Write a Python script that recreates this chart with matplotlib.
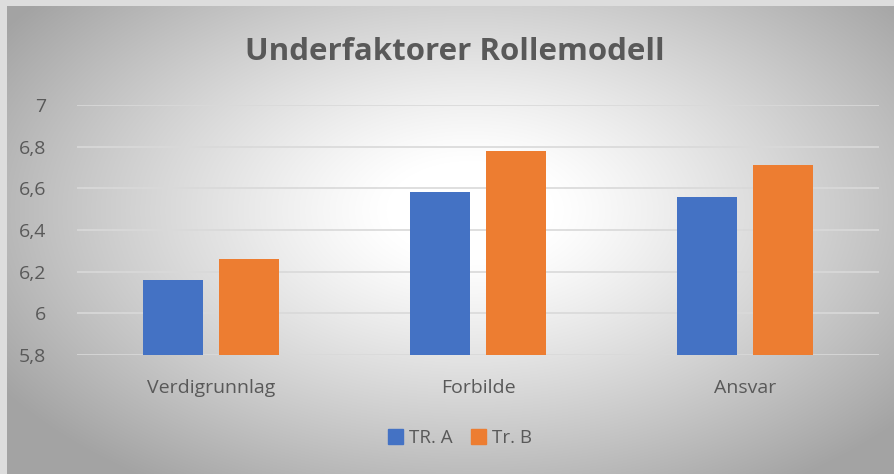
import numpy as np
import matplotlib.pyplot as plt
from matplotlib.patches import Patch

categories = ['Verdigrunnlag', 'Forbilde', 'Ansvar']
tr_a = [6.16, 6.58, 6.56]
tr_b = [6.26, 6.78, 6.71]
yticks = [5.8, 6.0, 6.2, 6.4, 6.6, 6.8, 7.0]
ytick_labels = ['5,8', '6', '6,2', '6,4', '6,6', '6,8', '7']

W, H = 895, 474
fig = plt.figure(figsize=(W / 100, H / 100), dpi=100)
plt.rcParams['font.family'] = ['Open Sans', 'DejaVu Sans']

# radial gradient background (white centre, grey edges)
bg = fig.add_axes([0, 0, 1, 1], zorder=0)
yy, xx = np.mgrid[0:H, 0:W]
r = np.sqrt(((xx - 470) / 560.0) ** 2 + ((yy - 210) / 330.0) ** 2)
r = np.clip(r, 0, 1)
grey = 1.0 - 0.36 * np.clip((r - 0.15) / 0.85, 0, 1) ** 1.15
img = np.dstack([grey, grey, grey])
img[:6, :, :] = 0.87
img[:, :7, :] = 0.87
bg.imshow(img, aspect='auto', interpolation='bilinear')
bg.axis('off')

ax = fig.add_axes([77 / W, 1 - 355 / H, (879 - 77) / W, (355 - 105) / H], zorder=1)
ax.patch.set_alpha(0)

x = np.arange(len(categories))
w = 0.224
off = 0.142
ax.bar(x - off, np.array(tr_a) - 5.8, w, bottom=5.8, color='#4472C4', label='TR. A', zorder=3)
ax.bar(x + off, np.array(tr_b) - 5.8, w, bottom=5.8, color='#ED7D31', label='Tr. B', zorder=3)

ax.set_xlim(-0.5, 2.5)
ax.set_ylim(5.8, 7.0)
ax.set_yticks(yticks)
ax.set_yticklabels(ytick_labels)
ax.set_xticks(x)
ax.set_xticklabels(categories)
ax.tick_params(length=0, colors='#595959', labelsize=14)
ax.tick_params(axis='y', pad=22)
ax.tick_params(axis='x', pad=17)
ax.grid(axis='y', color='#D9D9D9', linewidth=1.2, zorder=0)
for s in ax.spines.values():
    s.set_visible(False)

fig.text(455 / W, 1 - 52 / H, 'Underfaktorer Rollemodell', ha='center', va='center',
         fontsize=22.5, fontweight='bold', color='#595959')

handles = [Patch(color='#4472C4'), Patch(color='#ED7D31')]
fig.legend(handles, ['TR. A', 'Tr. B'], loc='center', bbox_to_anchor=(460 / W, 1 - 438 / H),
           ncol=2, frameon=False, fontsize=13.5, handlelength=0.8, handleheight=0.8,
           handletextpad=0.3, columnspacing=1.0, labelcolor='#595959')

fig.savefig('out.png', dpi=100)
